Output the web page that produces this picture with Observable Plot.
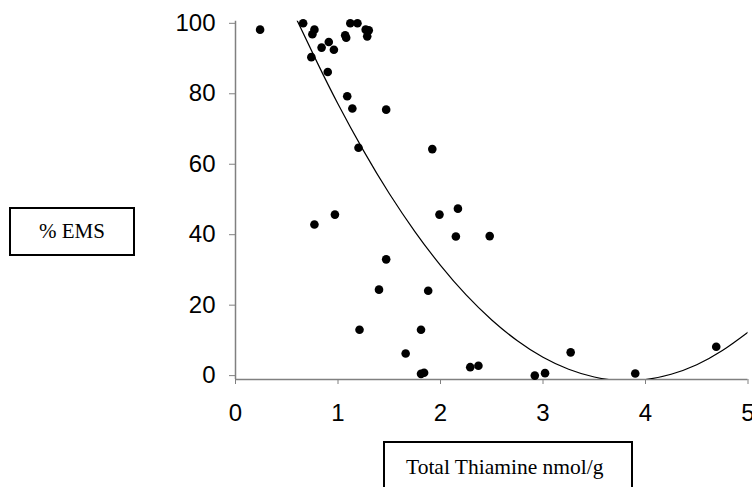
<!DOCTYPE html>
<html>
<head>
<meta charset="utf-8">
<script src="https://cdn.jsdelivr.net/npm/d3@7"></script>
<script src="https://cdn.jsdelivr.net/npm/@observablehq/plot@0.6"></script>
<style>
  body { margin: 0; background: #fff; }
  #wrap { position: relative; width: 752px; height: 487px; overflow: hidden; background: #fff; }
  #wrap svg { position: absolute; left: 0; top: 0; }
  .box { position: absolute; border: 2px solid #000; box-sizing: border-box; background: #fff;
         font-family: "Liberation Serif", "Times New Roman", serif; color: #000; }
  #ylab { left: 9px; top: 207px; width: 126px; height: 49px; display: flex; align-items: center; justify-content: center; font-size: 21px; }
  #xlab { left: 383px; top: 441px; width: 250px; height: 70px; font-size: 21.5px; line-height: 21.5px; padding-top: 14px; padding-left: 21px; white-space: nowrap; }
</style>
</head>
<body>
<div id="wrap"></div>
<script>
// Observed data: Total Thiamine (nmol/g) vs % EMS
const thiamine = [0.24, 0.66, 0.77, 0.75, 0.74, 0.84, 0.91, 0.96, 0.90, 1.07, 1.08, 1.12, 1.19, 1.27, 1.30, 1.285,
                  1.09, 1.14, 1.47, 1.20, 1.92, 2.17, 0.77, 0.97, 1.99, 2.15, 2.48, 1.47, 1.40, 1.88, 1.21,
                  1.81, 1.66, 1.81, 1.84, 2.29, 2.37, 2.92, 3.02, 3.27, 3.90, 4.69];
const ems      = [98.2, 100, 98.2, 96.9, 90.4, 93.1, 94.7, 92.5, 86.2, 96.6, 95.9, 100, 100, 98.2, 98.0, 96.3,
                  79.3, 75.8, 75.5, 64.7, 64.3, 47.4, 42.9, 45.7, 45.7, 39.5, 39.6, 33.0, 24.4, 24.1, 13.0,
                  13.0, 6.3, 0.5, 0.8, 2.4, 2.8, 0.0, 0.7, 6.6, 0.6, 8.2];

// Polynomial trendline at several x positions
const trendX = [0.6, 0.8, 1.0, 1.25, 1.5, 1.75, 2.0, 2.25, 2.5, 2.75, 3.0, 3.25, 3.5, 3.75, 4.0, 4.25, 4.5, 4.75, 5.0];
const trendY = [100.9, 88.7, 77.1, 63.8, 51.7, 40.9, 31.3, 22.9, 15.8, 9.9, 5.2, 1.8, -0.4, -1.4, -1.1, 0.4, 3.1, 7.1, 12.3];

// Tick labels
const xTicks = [0, 1, 2, 3, 4, 5];
const yTicks = [0, 20, 40, 60, 80, 100];

const points = thiamine.map((t, i) => ({t, e: ems[i]}));
const trend = trendX.map((x, i) => ({x, y: trendY[i]}));

const yMin = -1.1, yMax = 100.6;

const chart = Plot.plot({
  width: 752,
  height: 487,
  marginLeft: 235,
  marginRight: 4.5,
  marginTop: 20.7,
  marginBottom: 108,
  style: { fontFamily: "'Liberation Sans', Arial, sans-serif", fontSize: "24px", background: "white", color: "black" },
  x: { domain: [0, 5] },
  y: { domain: [yMin, yMax] },
  marks: [
    Plot.ruleX([0], { stroke: "#808080", strokeWidth: 1.5 }),
    Plot.ruleY([yMin], { stroke: "#808080", strokeWidth: 1.5 }),
    Plot.axisX(xTicks, { tickSize: 5, tickPadding: 19.6, stroke: "#808080", fill: "black", fontSize: 24, label: null, tickFormat: d => String(d) }),
    Plot.axisY(yTicks, { tickSize: 6, tickPadding: 14, stroke: "#808080", fill: "black", fontSize: 24, label: null, tickFormat: d => String(d) }),
    Plot.line(trend, { x: "x", y: "y", curve: "natural", stroke: "black", strokeWidth: 1.2, clip: true }),
    Plot.dot(points, { x: "t", y: "e", r: 4.3, fill: "black", stroke: "none" })
  ]
});

const wrap = document.getElementById("wrap");
wrap.appendChild(chart);

const ylab = document.createElement("div");
ylab.className = "box"; ylab.id = "ylab"; ylab.textContent = "% EMS";
wrap.appendChild(ylab);

const xlab = document.createElement("div");
xlab.className = "box"; xlab.id = "xlab"; xlab.textContent = "Total Thiamine nmol/g";
wrap.appendChild(xlab);
</script>
</body>
</html>
